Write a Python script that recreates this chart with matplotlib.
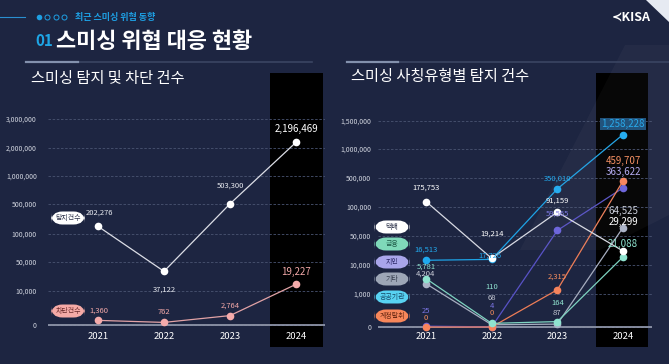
import numpy as np
import matplotlib.pyplot as plt
from matplotlib.patches import FancyBboxPatch, Polygon
from matplotlib.lines import Line2D

plt.rcParams['font.family'] = ['Noto Sans CJK KR', 'DejaVu Sans']

years = ['2021', '2022', '2023', '2024']

# 스미싱 탐지 및 차단 건수
detect = [202276, 37122, 503300, 2196469]
block = [1360, 762, 2764, 19227]
left_ticks = [0, 10000, 50000, 100000, 500000, 1000000, 2000000, 3000000]

# 스미싱 사칭유형별 탐지 건수
type_names = ['택배', '금융', '지인', '기타', '공공기관', '계정탈취']
parcel = [175753, 19214, 91159, 29299]
finance = [5781, 110, 164, 21088]
acquaint = [25, 4, 59565, 363622]
etc = [4204, 68, 87, 64525]
public = [16513, 17726, 350010, 1258228]
account = [0, 0, 2315, 459707]
right_ticks = [0, 1000, 10000, 50000, 100000, 500000, 1000000, 1500000]

BG = '#1d2541'
W, H = 669, 364

fig = plt.figure(figsize=(W / 100, H / 100), dpi=100, facecolor=BG)


def fx(x):
    return x / W


def fy(y):
    return 1 - y / H


def make_axes(x0, x1, y0, y1):
    return fig.add_axes([fx(x0), fy(y1), (x1 - x0) / W, (y1 - y0) / H])


# 눈금 간격이 일정한 구간별 선형 축
def piecewise_scale(ticks, gaps):
    t = np.array(ticks, float)
    p = np.array(gaps, float)
    t = np.concatenate([[t[0] - 10 * (t[1] - t[0])], t, [t[-1] + 10 * (t[-1] - t[-2])]])
    p = np.concatenate([[p[0] - 10 * (p[1] - p[0])], p, [p[-1] + 10 * (p[-1] - p[-2])]])
    return (lambda v: np.interp(v, t, p)), (lambda y: np.interp(y, p, t))


def setup_axes(ax, ticks, gaps, ylo, yhi, xlim, span, pad):
    fwd, inv = piecewise_scale(ticks, gaps)
    ax.set_yscale('function', functions=(fwd, inv))
    ax.set_ylim(inv(ylo), inv(yhi))
    ax.set_xlim(*xlim)
    ax.set_facecolor('none')
    for s in ax.spines.values():
        s.set_visible(False)
    ax.axvspan(*span, color='black', zorder=0.3, lw=0)
    ax.set_yticks(ticks, labels=[f'{t:,}' for t in ticks])
    ax.yaxis.set_minor_locator(plt.NullLocator())
    ax.tick_params(axis='y', length=0, pad=pad, labelsize=5, labelcolor='#d0d4de')
    ax.set_xticks(range(4), labels=years)
    ax.tick_params(axis='x', length=0, pad=-11, labelsize=6.8, labelcolor='white')
    ax.yaxis.grid(True, ls=(0, (3, 2)), color='#4a5472', lw=0.6)
    ax.axhline(0, color='#8d94a8', lw=1.3, zorder=1.6)


def series(ax, vals, line_c, mark_c, text_c, offs, big_c=None):
    ax.plot(range(4), vals, color=line_c, lw=0.9, marker='o', ms=5.5,
            mfc=mark_c, mec='none', zorder=3)
    for i, (v, o) in enumerate(zip(vals, offs)):
        last = i == 3
        ax.annotate(f'{v:,}', (i, v), xytext=o, textcoords='offset pixels',
                    ha='center', va='center', fontsize=7 if last else 5.5,
                    color=(big_c or text_c) if last else text_c, zorder=4)


def pill(x, y, w, h, text, fc, tc, size=5):
    fig.patches.append(FancyBboxPatch((fx(x - w / 2), fy(y + h / 2)), w / W, h / H,
                                      boxstyle='round,pad=0,rounding_size=0.017',
                                      transform=fig.transFigure, fc=fc, ec='none',
                                      mutation_aspect=W / H))
    fig.text(fx(x), fy(y), text, ha='center', va='center', fontsize=size, color=tc)


# 배경 장식
fig.patches.append(Polygon([(fx(520), fy(250)), (fx(625), fy(45)), (fx(669), fy(45)),
                            (fx(669), fy(215)), (fx(600), fy(250))],
                           closed=True, transform=fig.transFigure,
                           fc='white', alpha=0.03, ec='none'))
fig.patches.append(Polygon([(fx(646), fy(0)), (fx(669), fy(0)), (fx(669), fy(22))],
                           closed=True, transform=fig.transFigure, fc='#e6eaf2', ec='none'))

# 머리글
fig.add_artist(Line2D([fx(0), fx(25)], [fy(17), fy(17)], color='#2a8fd0', lw=0.8))
fig.add_artist(Line2D([fx(38.7)], [fy(17)], marker='o', ms=4, mfc='#1e9fe3', mec='none', lw=0))
for x in [47.3, 55.7, 64.3]:
    fig.add_artist(Line2D([fx(x)], [fy(17)], marker='o', ms=3.6, mfc='none',
                          mec='#1e9fe3', mew=0.7, lw=0))
fig.text(fx(75), fy(17), '최근 스미싱 위협 동향', fontsize=6.5, color='#1e9fe3',
         fontweight='bold', va='center')
fig.text(fx(35), fy(41), '01', fontsize=11, color='#1ea6e6', fontweight='bold', va='center')
fig.text(fx(56), fy(41), '스미싱 위협 대응 현황', fontsize=15.8, color='white',
         fontweight='bold', va='center')
fig.text(fx(612), fy(17), '≺KISA', fontsize=9, color='white', fontweight='bold', va='center')

for x0, x1, xb in [(26, 312, 78), (347, 669, 398)]:
    fig.add_artist(Line2D([fx(x0), fx(x1)], [fy(62), fy(62)], color='#3a4562', lw=1.2))
    fig.add_artist(Line2D([fx(x0), fx(xb)], [fy(62), fy(62)], color='#8391ad', lw=1.6))

fig.text(fx(31), fy(79), '스미싱 탐지 및 차단 건수', fontsize=11, color='white', va='center')
fig.text(fx(351), fy(77), '스미싱 사칭유형별 탐지 건수', fontsize=11, color='white', va='center')

# 왼쪽 차트
axl = make_axes(48, 325, 73, 347)
setup_axes(axl, left_ticks, [0, 34, 63, 91, 121, 149, 177, 206], -22, 252,
           (-50 / 66, 3 + 29 / 66), (2.6, 3.41), 8)
series(axl, detect, '#dcdee6', 'white', '#e8eaf0',
       [(1, 14), (0, -18), (0, 18), (0, 13)], big_c='white')
series(axl, block, '#e2a3a6', '#f4abab', '#f0a7a7',
       [(1, 10), (0, 10), (0, 10), (0, 12)])
pill(68, 218, 34, 13, '탐지건수', 'white', '#2a3048')
pill(68, 311, 34, 13, '차단건수', '#f5aaa6', '#6a2a2a')

# 오른쪽 차트
axr = make_axes(378, 652, 73, 347)
setup_axes(axr, right_ticks, [0, 33, 62, 91, 120, 149, 178, 206], -20, 254,
           (-48 / 65.7, 3 + 29 / 65.7), (2.59, 3.38), 5)
series(axr, etc, '#a7aec0', '#aab2c6', '#c9cdd8',
       [(0, 10), (0, 27), (0, 11), (0, 17)])
series(axr, acquaint, '#5852c6', '#6a62da', '#7a74e2',
       [(0, 15), (0, 21), (0, 17), (0, 16)], big_c='#b2aaf2')
series(axr, account, '#ee7d57', '#f7845c', '#f58d5e',
       [(0, 9), (0, 14), (0, 13), (0, 20)])
series(axr, finance, '#7ed3c0', '#8fe3cf', '#8fe3cf',
       [(0, 12), (0, 36), (0, 19), (0, 13)])
series(axr, public, '#1ea3e6', '#1faaef', '#22a8ec',
       [(0, 11), (-2, 4), (0, 10), (0, 11)])
series(axr, parcel, '#d8dae3', 'white', 'white',
       [(0, 14), (0, 25), (0, 11), (0, 29)])
# 2024 공공기관 강조 배경
axr.texts[-1 - 4].set_bbox(dict(boxstyle='square,pad=0.1', fc='#1b4e78', ec='none'))

pill_fc = ['white', '#7fd9b9', '#a9a5ea', '#9da6b6', '#58d2f2', '#f8875a']
pill_tc = ['#2a3048', '#1f5a48', '#2e2a6a', '#384050', '#164a66', '#6a2a14']
for name, fc, tc, y in zip(type_names, pill_fc, pill_tc, [227, 244, 262, 279, 297, 316]):
    pill(392, y, 35, 13, name, fc, tc)

fig.savefig('out.png', dpi=100, facecolor=BG)
